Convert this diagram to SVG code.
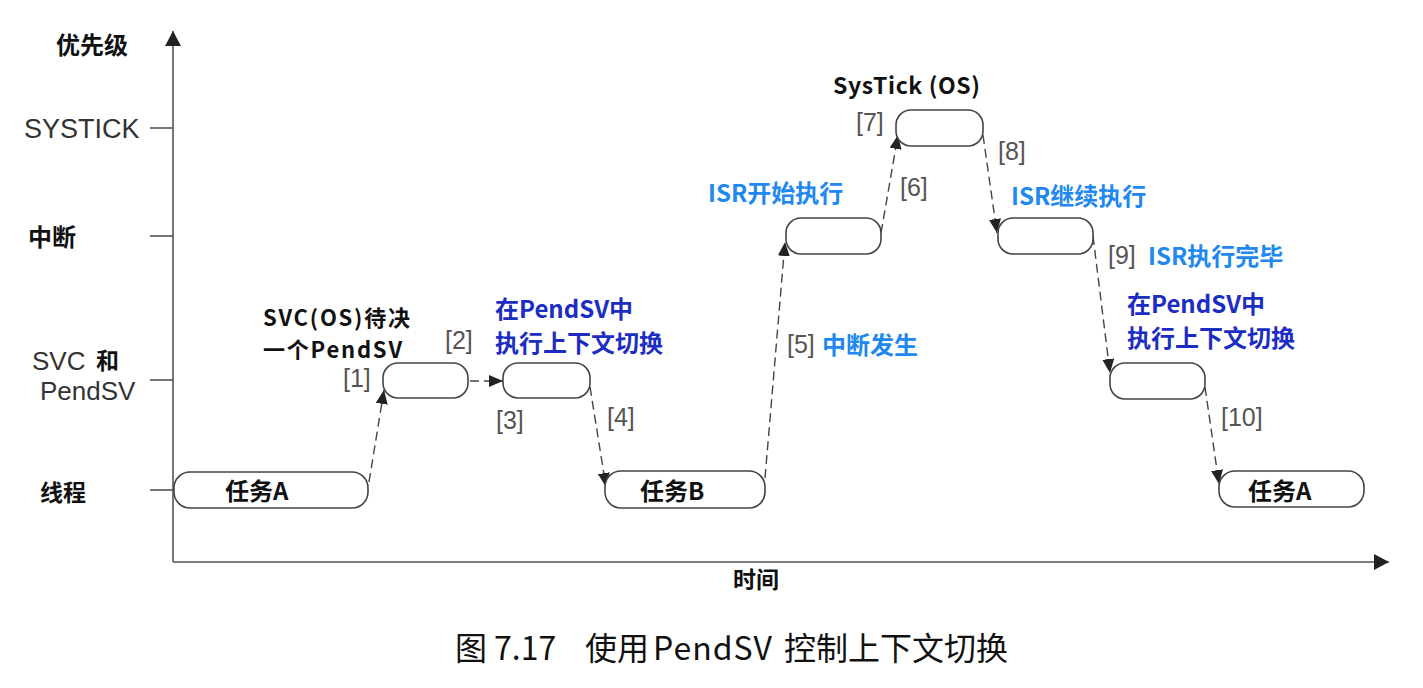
<svg xmlns="http://www.w3.org/2000/svg" width="1423" height="688" viewBox="0 0 1423 688">
<style>
.ax{stroke:#555;stroke-width:1.6;fill:none}
.box{fill:#fff;stroke:#444;stroke-width:1.6}
.con{stroke:#444;stroke-width:1.4;stroke-dasharray:9 5;fill:none}
.cjk{font-family:"Noto Sans CJK SC","Noto Sans",sans-serif}
.b{font-weight:bold;fill:#111}
.num{font-family:"Liberation Sans",Arial,sans-serif;font-size:25px;fill:#555}
.lat{font-family:"Liberation Sans",Arial,sans-serif;fill:#333}
.dk{fill:#1c2dc2;font-weight:bold;font-size:24px}
.lt{fill:#2088ee;font-weight:bold;font-size:24px}
</style>
<defs>
<marker id="ah" markerUnits="userSpaceOnUse" markerWidth="16" markerHeight="12" refX="14" refY="6" orient="auto">
<path d="M0,0 L14,6 L0,12 Z" fill="#222"/>
</marker>
<marker id="axh" markerUnits="userSpaceOnUse" markerWidth="16" markerHeight="16" refX="15" refY="8" orient="auto">
<path d="M0,0 L15,8 L0,16 Z" fill="#222"/>
</marker>
</defs>
<rect width="1423" height="688" fill="#fff"/>
<g id="axes">
<line class="ax" x1="173" y1="562" x2="173" y2="31" marker-end="url(#axh)"/>
<line class="ax" x1="173" y1="562" x2="1389" y2="562" marker-end="url(#axh)"/>
<line class="ax" x1="150" y1="128" x2="173" y2="128"/>
<line class="ax" x1="150" y1="236" x2="173" y2="236"/>
<line class="ax" x1="150" y1="380" x2="173" y2="380"/>
<line class="ax" x1="150" y1="490" x2="173" y2="490"/>
<text class="cjk b" x="56" y="54" font-size="24">优先级</text>
<text class="lat" x="24" y="138" font-size="27">SYSTICK</text>
<text class="cjk b" x="28" y="246" font-size="24">中断</text>
<text class="lat" x="32" y="370" font-size="26">SVC</text>
<text class="cjk b" x="96" y="369" font-size="23">和</text>
<text class="lat" x="40" y="400" font-size="26">PendSV</text>
<text class="cjk b" x="40" y="501" font-size="23">线程</text>
<text class="cjk b" x="733" y="588" font-size="23">时间</text>
</g>
<g id="connectors">
<line class="con" x1="369" y1="482" x2="384" y2="390" marker-end="url(#ah)"/>
<line class="con" x1="470" y1="381" x2="503" y2="381" marker-end="url(#ah)"/>
<line class="con" x1="590" y1="387" x2="606" y2="487" marker-end="url(#ah)"/>
<line class="con" x1="765" y1="478" x2="785" y2="242" marker-end="url(#ah)"/>
<line class="con" x1="881" y1="233" x2="898" y2="135" marker-end="url(#ah)"/>
<line class="con" x1="983" y1="135" x2="997" y2="233" marker-end="url(#ah)"/>
<line class="con" x1="1093" y1="236" x2="1110" y2="373" marker-end="url(#ah)"/>
<line class="con" x1="1205" y1="387" x2="1219" y2="484" marker-end="url(#ah)"/>
</g>
<g id="taskA1">
<rect class="box" x="174" y="472" width="194" height="36" rx="16"/>
<text class="cjk b" x="225" y="500" font-size="24">任务A</text>
</g>
<g id="svc">
<rect class="box" x="383" y="363" width="85" height="35" rx="15"/>
</g>
<g id="pendsv1">
<rect class="box" x="503" y="363" width="87" height="35" rx="15"/>
</g>
<g id="taskB">
<rect class="box" x="605" y="471" width="160" height="37" rx="16"/>
<text class="cjk b" x="640" y="500" font-size="24">任务B</text>
</g>
<g id="isr">
<rect class="box" x="786" y="218" width="95" height="36" rx="15"/>
</g>
<g id="systick">
<rect class="box" x="896" y="110" width="87" height="36" rx="15"/>
</g>
<g id="isr2">
<rect class="box" x="998" y="218" width="95" height="36" rx="15"/>
</g>
<g id="pendsv2">
<rect class="box" x="1110" y="363" width="95" height="36" rx="15"/>
</g>
<g id="taskA2">
<rect class="box" x="1219" y="471" width="145" height="36" rx="16"/>
<text class="cjk b" x="1248" y="500" font-size="24">任务A</text>
</g>
<g id="labels">
<text class="num" x="343" y="387">[1]</text>
<text class="num" x="445" y="349">[2]</text>
<text class="num" x="496" y="429">[3]</text>
<text class="num" x="607" y="426">[4]</text>
<text class="num" x="787" y="353">[5]</text>
<text class="num" x="900" y="196">[6]</text>
<text class="num" x="856" y="131">[7]</text>
<text class="num" x="998" y="160">[8]</text>
<text class="num" x="1108" y="264">[9]</text>
<text class="num" x="1221" y="426">[10]</text>
<text class="cjk b" x="263" y="326" font-size="22" textLength="147">SVC(OS)待决</text>
<text class="cjk b" x="263" y="358" font-size="22" textLength="139">一个PendSV</text>
<text class="cjk b" x="833" y="94" font-size="23" textLength="147">SysTick (OS)</text>
<text class="cjk dk" x="495" y="318">在PendSV中</text>
<text class="cjk dk" x="495" y="352">执行上下文切换</text>
<text class="cjk lt" x="708" y="202">ISR开始执行</text>
<text class="cjk lt" x="822" y="354">中断发生</text>
<text class="cjk lt" x="1011" y="205">ISR继续执行</text>
<text class="cjk lt" x="1148" y="265">ISR执行完毕</text>
<text class="cjk dk" x="1127" y="313">在PendSV中</text>
<text class="cjk dk" x="1127" y="347">执行上下文切换</text>
<text class="cjk" y="660" font-size="32" fill="#111"><tspan x="455">图</tspan><tspan x="494">7.17</tspan><tspan x="585">使用</tspan><tspan x="653" textLength="119">PendSV</tspan><tspan x="784">控制上下文切换</tspan></text>
</g>
</svg>
